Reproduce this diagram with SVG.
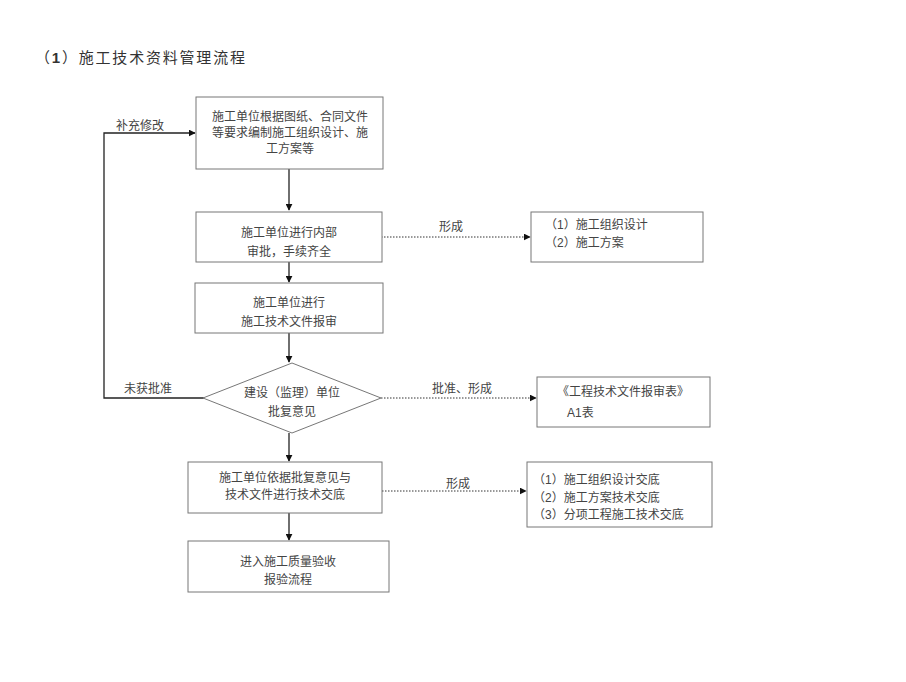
<svg xmlns="http://www.w3.org/2000/svg" width="906" height="682" viewBox="0 0 906 682">
<defs>
<style>
.box{fill:#fff;stroke:#777;stroke-width:1}
.t{font-family:"Liberation Sans","Noto Sans CJK SC",sans-serif;font-size:12px;fill:#444}
.c{text-anchor:middle}
.ln{stroke:#222;stroke-width:1.3;fill:none}
.dl{stroke:#333;stroke-width:1;stroke-dasharray:1.5 1.5;fill:none}
</style>
<marker id="ah" viewBox="0 0 10 10" refX="9" refY="5" markerWidth="7" markerHeight="7" markerUnits="userSpaceOnUse" orient="auto"><path d="M0,0L10,5L0,10z" fill="#111"/></marker>
</defs>
<rect width="906" height="682" fill="#fff"/>
<text x="35" y="63" style="font-family:'Liberation Sans','Noto Sans CJK SC',sans-serif;font-size:15px;fill:#333;letter-spacing:1.8px">（<tspan font-weight="bold">1</tspan>）施工技术资料管理流程</text>

<g id="connectors">
<line class="ln" x1="289" y1="169" x2="289" y2="210" marker-end="url(#ah)"/>
<line class="ln" x1="289" y1="262" x2="289" y2="282" marker-end="url(#ah)"/>
<line class="ln" x1="289" y1="333" x2="289" y2="362" marker-end="url(#ah)"/>
<line class="ln" x1="289" y1="433" x2="289" y2="461" marker-end="url(#ah)"/>
<line class="ln" x1="289" y1="513" x2="289" y2="540" marker-end="url(#ah)"/>
<polyline class="ln" points="204,398 104,398 104,133 195,133" marker-end="url(#ah)"/>
<line class="dl" x1="381" y1="237" x2="530" y2="237" marker-end="url(#ah)"/>
<line class="dl" x1="381" y1="398" x2="536" y2="398" marker-end="url(#ah)"/>
<line class="dl" x1="382" y1="491" x2="526" y2="491" marker-end="url(#ah)"/>
<text class="t" x="116" y="130">补充修改</text>
<text class="t" x="124" y="393">未获批准</text>
<text class="t" x="439" y="231">形成</text>
<text class="t" x="432" y="393">批准、形成</text>
<text class="t" x="446" y="488">形成</text>
</g>

<g id="n1">
<rect class="box" x="196" y="97" width="187" height="72"/>
<text class="t c" x="290" y="121">施工单位根据图纸、合同文件</text>
<text class="t c" x="290" y="137">等要求编制施工组织设计、施</text>
<text class="t c" x="290" y="153">工方案等</text>
</g>
<g id="n2">
<rect class="box" x="196" y="212" width="186" height="50"/>
<text class="t c" x="289" y="237">施工单位进行内部</text>
<text class="t c" x="289" y="256">审批，手续齐全</text>
</g>
<g id="r1">
<rect class="box" x="531" y="212" width="172" height="50"/>
<text class="t" x="545" y="229">（1）施工组织设计</text>
<text class="t" x="545" y="247">（2）施工方案</text>
</g>
<g id="n3">
<rect class="box" x="195" y="283" width="188" height="50"/>
<text class="t c" x="289" y="307">施工单位进行</text>
<text class="t c" x="289" y="326">施工技术文件报审</text>
</g>
<g id="d1">
<polygon class="box" points="292,363 381,398 292,433 203,398"/>
<text class="t c" x="292" y="397">建设（监理）单位</text>
<text class="t c" x="292" y="416">批复意见</text>
</g>
<g id="r2">
<rect class="box" x="537" y="377" width="173" height="50"/>
<text class="t" x="557" y="396">《工程技术文件报审表》</text>
<text class="t" x="567" y="417">A1表</text>
</g>
<g id="n4">
<rect class="box" x="188" y="462" width="194" height="51"/>
<text class="t c" x="285" y="482">施工单位依据批复意见与</text>
<text class="t c" x="285" y="499">技术文件进行技术交底</text>
</g>
<g id="r3">
<rect class="box" x="527" y="462" width="185" height="65"/>
<text class="t" x="533" y="484">（1）施工组织设计交底</text>
<text class="t" x="533" y="502">（2）施工方案技术交底</text>
<text class="t" x="533" y="519">（3）分项工程施工技术交底</text>
</g>
<g id="n5">
<rect class="box" x="188" y="541" width="201" height="51"/>
<text class="t c" x="288" y="566">进入施工质量验收</text>
<text class="t c" x="288" y="584">报验流程</text>
</g>
</svg>
